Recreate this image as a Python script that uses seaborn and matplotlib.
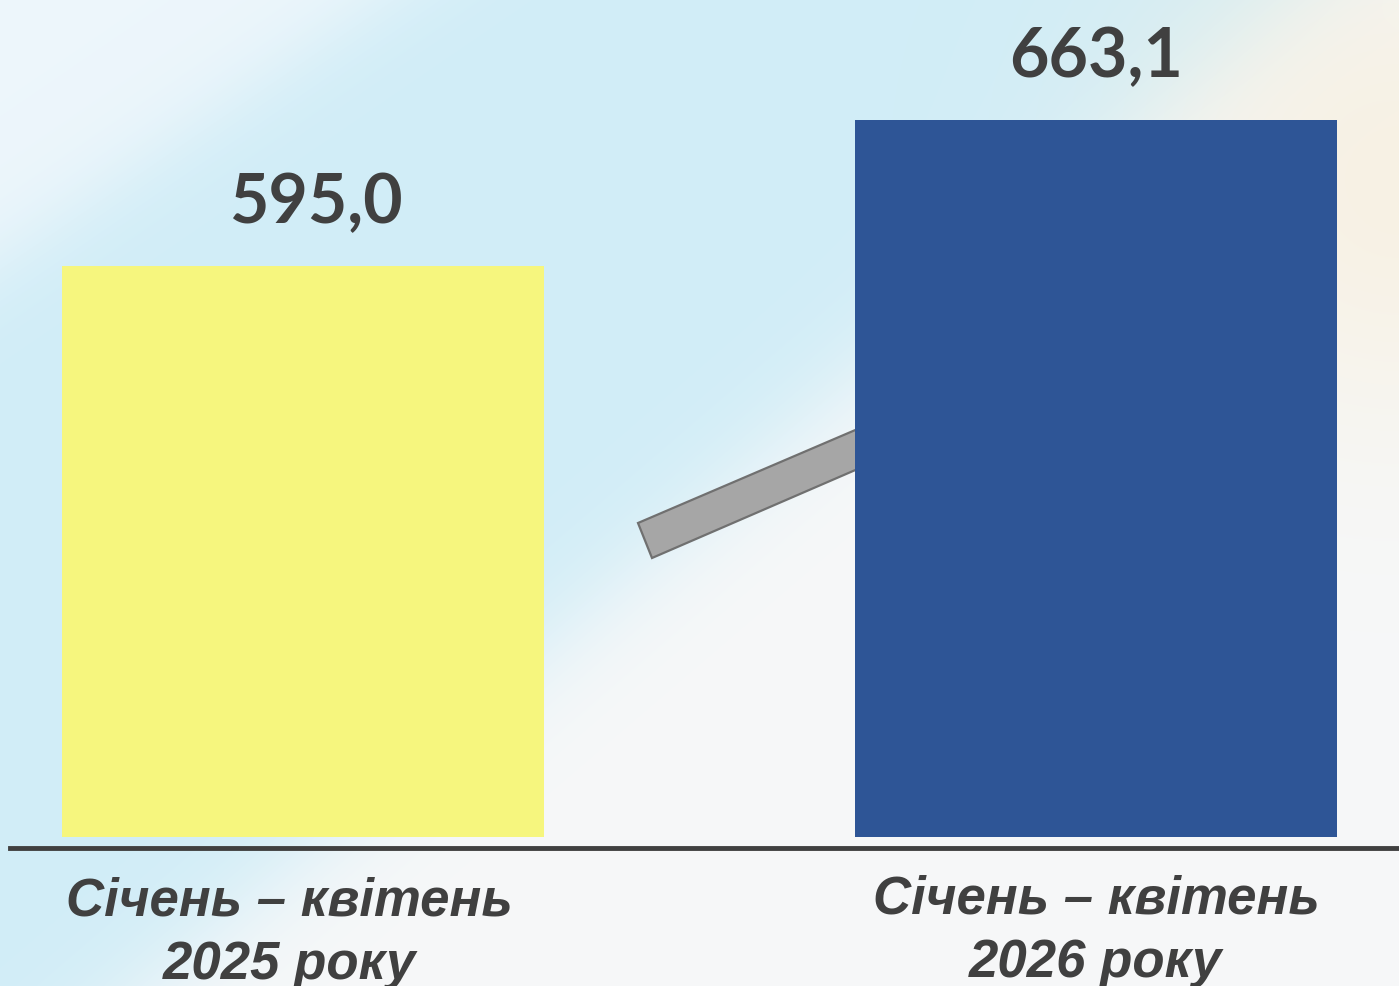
import numpy as np
import matplotlib
matplotlib.use("Agg")
import matplotlib.pyplot as plt
import matplotlib.transforms as mtransforms
import seaborn as sns
from matplotlib.patches import Polygon

# --- DATA ---
periods = ["Січень – квітень\n2025 року", "Січень – квітень\n2026 року"]
values = [595.0, 663.1]
value_labels = ["595,0", "663,1"]
bar_colors = ["#F6F67E", "#2E5596"]

W, H = 1399, 986
TEXT = "#404040"

sns.set_style("white")
plt.rcParams["font.family"] = ["Liberation Sans", "DejaVu Sans"]

fig = plt.figure(figsize=(W / 100, H / 100), dpi=100)

# soft gradient background like the slide
yy, xx = np.mgrid[0:H, 0:W].astype(float)
blue = np.array([0.82, 0.93, 0.97])
white = np.array([0.968, 0.972, 0.976])
light = np.array([0.93, 0.965, 0.985])
warm = np.array([0.97, 0.93, 0.84])
s2 = ((xx - 600) * 600 + (yy - 600) * 700) / 922.0
w2 = 1 / (1 + np.exp(-s2 / 30))
img = blue * (1 - w2[..., None]) + white * w2[..., None]
s1 = (xx * 260 + yy * 380 - 380 * 260) / 460.0
w1 = 1 / (1 + np.exp(s1 / 25))
img = img * (1 - w1[..., None]) + light * w1[..., None]
g = np.exp(-(((xx - 1399) ** 2 + (yy - 180) ** 2) / (2 * 180 ** 2))) * 0.6
img = img * (1 - g[..., None]) + warm * g[..., None]

bg = fig.add_axes([0, 0, 1, 1], zorder=-1)
bg.imshow(img, aspect="auto")
bg.axis("off")

ax = fig.add_axes([10 / W, (H - 837) / H, (W - 10) / W, 837 / H])
ax.patch.set_alpha(0)

# grey arrow shaft running behind the blue bar
shaft = Polygon([(638 / W, 1 - 523 / H), (860 / W, 1 - 428 / H),
                 (860 / W, 1 - 468 / H), (652 / W, 1 - 558 / H)],
                closed=True, transform=fig.transFigure, facecolor="#A6A6A6",
                edgecolor="#707070", linewidth=1.6, zorder=0.5)
ax.add_patch(shaft)

sns.barplot(x=periods, y=values, hue=periods, palette=bar_colors, legend=False,
            width=0.608, saturation=1, ax=ax, zorder=1, linewidth=0,
            edgecolor="none")

for i, (cont, lab) in enumerate(zip(ax.containers, value_labels)):
    txts = ax.bar_label(cont, labels=[lab], padding=22, fontsize=49,
                        fontweight="bold", color=TEXT,
                        family=["Lato", "DejaVu Sans"])
    if i == 0:
        for t in txts:
            t.xyann = (9.4, 22)

ax.set_ylim(328.7, 719.1)
ax.set_xlim(-0.369, 1.382)

for side in ["top", "left", "right"]:
    ax.spines[side].set_visible(False)
ax.spines["bottom"].set_position(("outward", 8))
ax.spines["bottom"].set_linewidth(3.5)
ax.spines["bottom"].set_color(TEXT)

ax.set_yticks([])
ax.set_xlabel("")
ax.set_ylabel("")
ax.tick_params(axis="x", length=0, pad=19)
for i, t in enumerate(ax.get_xticklabels()):
    t.set_fontsize(38)
    t.set_fontweight("bold")
    t.set_fontstyle("italic")
    t.set_color(TEXT)
    t.set_linespacing(1.35)
    if i == 0:
        t.set_transform(t.get_transform() + mtransforms.ScaledTranslation(
            -13 / 100, -2 / 100, fig.dpi_scale_trans))

fig.savefig("out.png", dpi=100)
